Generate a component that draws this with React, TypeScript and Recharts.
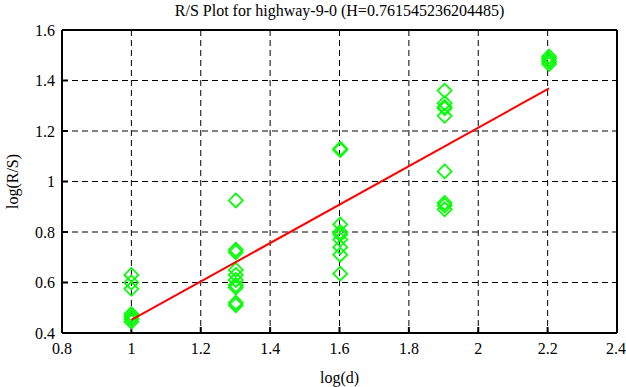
import { ScatterChart, Scatter, XAxis, YAxis, CartesianGrid, Label } from 'recharts';

// log10 of window sizes 10, 20, 40, 80, 160
const logD = [1, 1.30103, 1.60206, 1.90309, 2.20412];

const rsAt10 = [0.63, 0.6, 0.575, 0.475, 0.465, 0.455, 0.445];
const rsAt20 = [0.925, 0.73, 0.72, 0.65, 0.63, 0.61, 0.59, 0.58, 0.52, 0.51];
const rsAt40 = [1.13, 1.125, 0.83, 0.8, 0.79, 0.77, 0.74, 0.71, 0.635];
const rsAt80 = [1.36, 1.31, 1.295, 1.29, 1.26, 1.04, 0.915, 0.905, 0.89];
const rsAt160 = [1.495, 1.485, 1.475, 1.465];

const hurst = 0.761545236204485;
const intercept = -0.31;

const xTicks = [0.8, 1, 1.2, 1.4, 1.6, 1.8, 2, 2.2, 2.4];
const yTicks = [0.4, 0.6, 0.8, 1, 1.2, 1.4, 1.6];

const groups = [rsAt10, rsAt20, rsAt40, rsAt80, rsAt160];
const points = groups.flatMap((vals, i) => vals.map((y) => ({ x: logD[i], y })));
const fit = [logD[0], logD[4]].map((x) => ({ x, y: intercept + hurst * x }));

const Diamond = (props: any) => {
  const { cx, cy } = props;
  const r = 7;
  return (
    <path
      d={`M${cx},${cy - r}L${cx + r},${cy}L${cx},${cy + r}L${cx - r},${cy}Z`}
      fill="none"
      stroke="#00ff00"
      strokeWidth={1.7}
    />
  );
};

const serif = 'Liberation Serif';
const font = { fontFamily: serif, fontSize: 16, fill: '#000' };

export default function App() {
  return (
    <div style={{ position: 'relative', width: 626, height: 387, background: '#fff', fontFamily: serif }}>
      <style>{'body{margin:0} .recharts-text{font-family:"Liberation Serif"}'}</style>
      <ScatterChart width={626} height={387} margin={{ top: 0, right: 0, bottom: 0, left: 0 }}>
        <CartesianGrid xAxisId="b" yAxisId="l" stroke="#000" strokeDasharray="6 4" strokeWidth={1} />
        <XAxis
          xAxisId="b"
          type="number"
          dataKey="x"
          domain={[0.8, 2.4]}
          ticks={xTicks}
          height={54}
          tickSize={-6}
          tickMargin={16}
          stroke="#000"
          strokeWidth={2}
          fontFamily={serif}
          tick={font}
        >
          <Label value="log(d)" position="insideBottom" offset={4} style={font} />
        </XAxis>
        <XAxis
          xAxisId="t"
          orientation="top"
          type="number"
          dataKey="x"
          domain={[0.8, 2.4]}
          ticks={xTicks}
          height={30}
          tickSize={-6}
          tickFormatter={() => ''}
          stroke="#000"
          strokeWidth={2}
        />
        <YAxis
          yAxisId="l"
          type="number"
          dataKey="y"
          domain={[0.4, 1.6]}
          ticks={yTicks}
          width={62}
          tickSize={-6}
          tickMargin={13}
          stroke="#000"
          strokeWidth={2}
          fontFamily={serif}
          tick={font}
        >
          <Label value="log(R/S)" angle={-90} position="insideLeft" offset={12} style={{ ...font, textAnchor: 'middle' }} />
        </YAxis>
        <YAxis
          yAxisId="r"
          orientation="right"
          type="number"
          dataKey="y"
          domain={[0.4, 1.6]}
          ticks={yTicks}
          width={9}
          tickSize={-6}
          tickFormatter={() => ''}
          stroke="#000"
          strokeWidth={2}
        />
        <Scatter xAxisId="b" yAxisId="l" data={points} shape={Diamond} isAnimationActive={false} />
        <Scatter
          xAxisId="b"
          yAxisId="l"
          data={fit}
          line={{ stroke: '#ff0000', strokeWidth: 2 }}
          shape={() => null}
          isAnimationActive={false}
        />
      </ScatterChart>
      <div style={{ position: 'absolute', left: 62, width: 555, top: 0, textAlign: 'center', fontSize: 16, lineHeight: '22px' }}>
        R/S Plot for highway-9-0 (H=0.761545236204485)
      </div>
    </div>
  );
}
